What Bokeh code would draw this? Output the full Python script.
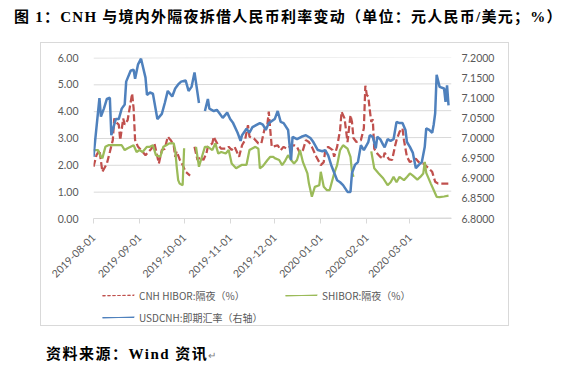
import numpy as np
import pandas as pd
from bokeh.plotting import figure
from bokeh.layouts import column
from bokeh.models import (Range1d, LinearAxis, FixedTicker, DatetimeTickFormatter,
                          NumeralTickFormatter, Legend, LegendItem, Div, InlineStyleSheet)
from bokeh.embed import file_html
from bokeh.resources import INLINE

NaN = float("nan")

title_text = "图 1：CNH 与境内外隔夜拆借人民币利率变动（单位：元人民币/美元；%）"
source_text = "资料来源：Wind 资讯"
x_start, x_end = "2019-08-01", "2020-03-29"
tick_dates = ["2019-08-01", "2019-09-01", "2019-10-01", "2019-11-01",
              "2019-12-01", "2020-01-01", "2020-02-01", "2020-03-01"]
left_ticks = [0, 1, 2, 3, 4, 5, 6]
right_ticks = [6.80, 6.85, 6.90, 6.95, 7.00, 7.05, 7.10, 7.15, 7.20]
name_hibor = "CNH HIBOR:隔夜（%）"
name_shibor = "SHIBOR:隔夜（%）"
name_usdcnh = "USDCNH:即期汇率（右轴）"

usdcnh_dates = [
    "2019-08-01", "2019-08-05", "2019-08-06", "2019-08-08", "2019-08-10", "2019-08-12", "2019-08-13",
    "2019-08-16", "2019-08-18", "2019-08-20", "2019-08-22", "2019-08-23", "2019-08-26", "2019-08-28",
    "2019-08-29", "2019-08-31", "2019-09-02", "2019-09-05", "2019-09-06", "2019-09-08", "2019-09-10",
    "2019-09-13", "2019-09-16", "2019-09-18", "2019-09-20", "2019-09-23", "2019-09-25", "2019-09-27",
    "2019-09-29", "2019-10-02", "2019-10-04", "2019-10-06", "2019-10-08", "2019-10-11", "2019-10-13",
    "2019-10-15", "2019-10-17", "2019-10-18", "2019-10-21", "2019-10-23", "2019-10-25", "2019-10-27",
    "2019-10-30", "2019-11-01", "2019-11-03", "2019-11-06", "2019-11-08", "2019-11-09", "2019-11-12",
    "2019-11-14", "2019-11-16", "2019-11-21", "2019-11-23", "2019-11-25", "2019-11-27", "2019-12-01",
    "2019-12-03", "2019-12-05", "2019-12-07", "2019-12-10", "2019-12-12", "2019-12-13", "2019-12-16",
    "2019-12-19", "2019-12-22", "2019-12-25", "2019-12-27", "2019-12-30", "2020-01-02", "2020-01-04",
    "2020-01-06", "2020-01-08", "2020-01-12", "2020-01-14", "2020-01-16", "2020-01-19", "2020-01-21",
    "2020-01-22", "2020-01-24", "2020-01-26", "2020-01-28", "2020-01-30", "2020-02-02", "2020-02-03",
    "2020-02-05", "2020-02-07", "2020-02-08", "2020-02-10", "2020-02-12", "2020-02-13", "2020-02-15",
    "2020-02-17", "2020-02-19", "2020-02-21", "2020-02-23", "2020-02-25", "2020-02-27", "2020-02-28",
    "2020-03-01", "2020-03-03", "2020-03-05", "2020-03-07", "2020-03-09", "2020-03-11", "2020-03-12",
    "2020-03-14", "2020-03-16", "2020-03-17", "2020-03-18", "2020-03-19", "2020-03-21", "2020-03-24",
    "2020-03-25", "2020-03-26", "2020-03-27"]
usdcnh = [
    6.953, 7.099, 7.053, 7.073, 7.097, 7.100, 7.007,
    7.047, 7.047, 7.073, 7.083, 7.140, 7.167, 7.170,
    7.147, 7.183, 7.197, 7.150, 7.107, 7.113, 7.110,
    7.047, 7.060, 7.087, 7.117, 7.103, 7.123, 7.133,
    7.140, 7.143, 7.117, 7.127, 7.163, 7.087, NaN,
    7.067, 7.097, 7.073, 7.067, 7.070, 7.060, 7.050,
    7.063, 7.047, 7.037, 7.013, 6.993, 7.007, 7.023,
    7.013, 7.027, 7.037, 7.033, 7.020, 7.037, 7.047,
    7.067, 7.040, 7.037, 7.020, 6.945, 7.003, 6.997,
    7.003, 7.007, 7.000, 6.990, 6.970, 6.967, 6.970,
    6.957, 6.933, 6.895, 6.890, 6.883, 6.866, 6.866,
    6.913, 6.933, 6.940, 6.982, 6.970, 6.990, 7.007,
    7.003, 6.974, 7.003, 6.997, 6.983, 6.977, 6.997,
    6.993, 6.997, 7.040, 7.037, 7.037, 7.020, 6.990,
    6.978, 6.963, 6.925, 6.933, 6.940, 6.978, 7.024,
    7.020, 7.013, 7.033, 7.061, 7.157, 7.127, 7.123,
    7.090, 7.131, 7.081]

hibor_dates = [
    "2019-08-01", "2019-08-03", "2019-08-05", "2019-08-07", "2019-08-10", "2019-08-12", "2019-08-14",
    "2019-08-15", "2019-08-16", "2019-08-18", "2019-08-19", "2019-08-21", "2019-08-22", "2019-08-24",
    "2019-08-27", "2019-08-28", "2019-08-29", "2019-08-31", "2019-09-02", "2019-09-05", "2019-09-07",
    "2019-09-09", "2019-09-11", "2019-09-12", "2019-09-14", "2019-09-16", "2019-09-18", "2019-09-20",
    "2019-09-22", "2019-09-24", "2019-09-25", "2019-09-26", "2019-09-28", "2019-09-30", "2019-10-02",
    "2019-10-05", "2019-10-07", "2019-10-08", "2019-10-10", "2019-10-12", "2019-10-14", "2019-10-16",
    "2019-10-17", "2019-10-20", "2019-10-21", "2019-10-22", "2019-10-24", "2019-10-26", "2019-10-29",
    "2019-10-31", "2019-11-02", "2019-11-04", "2019-11-07", "2019-11-09", "2019-11-11", "2019-11-13",
    "2019-11-14", "2019-11-17", "2019-11-20", "2019-11-22", "2019-11-24", "2019-11-26", "2019-11-27",
    "2019-11-28", "2019-11-29", "2019-12-01", "2019-12-03", "2019-12-05", "2019-12-07", "2019-12-09",
    "2019-12-11", "2019-12-14", "2019-12-16", "2019-12-18", "2019-12-20", "2019-12-22", "2019-12-24",
    "2019-12-26", "2019-12-29", "2020-01-01", "2020-01-03", "2020-01-04", "2020-01-06", "2020-01-09",
    "2020-01-10", "2020-01-12", "2020-01-14", "2020-01-15", "2020-01-17", "2020-01-19", "2020-01-21",
    "2020-01-22", "2020-01-23", "2020-01-25", "2020-01-28", "2020-01-30", "2020-01-31", "2020-02-01",
    "2020-02-02", "2020-02-03", "2020-02-04", "2020-02-05", "2020-02-06", "2020-02-08", "2020-02-10",
    "2020-02-12", "2020-02-13", "2020-02-16", "2020-02-18", "2020-02-20", "2020-02-21", "2020-02-23",
    "2020-02-25", "2020-02-26", "2020-02-28", "2020-03-01", "2020-03-03", "2020-03-05", "2020-03-07",
    "2020-03-10", "2020-03-12", "2020-03-14", "2020-03-16", "2020-03-18", "2020-03-20", "2020-03-23",
    "2020-03-25", "2020-03-27"]
hibor = [
    1.93, 2.36, 2.55, 1.74, 2.05, 2.48, 2.92,
    3.73, 3.60, 3.50, 2.92, 3.73, 3.50, 3.67,
    4.66, 4.10, 2.92, 2.67, 2.55, 2.36, 2.48,
    2.60, 2.80, 2.55, 2.05, 2.55, 2.60, 3.05,
    2.92, 2.73, 2.30, 2.50, 2.20, 2.00, 1.74,
    1.60, NaN, 2.67, 2.18, 2.30, 2.18, 2.43,
    2.67, 2.80, 3.05, 2.92, 2.73, 2.60, 2.60,
    2.67, 2.55, 2.67, 2.30, 2.73, 2.92, 3.48,
    3.05, 2.98, 2.80, 2.80, 3.30, 3.48, 3.98,
    3.30, 2.67, 2.70, 2.73, 2.55, 2.67, 2.60,
    2.67, 2.73, 2.67, 2.43, 2.55, 2.92, 2.85,
    2.67, 2.30, 1.99, 2.10, 2.55, 2.67, 2.55,
    2.30, 2.67, 3.30, 3.98, 3.73, 2.85, 3.85,
    3.60, 3.00, 2.85, 2.92, 3.36, 4.95, 4.60,
    4.54, 4.04, 3.60, 3.70, 2.60, 2.42, 2.30,
    2.23, 2.45, 2.20, 2.18, 2.70, 2.92, 3.23,
    3.36, 2.92, 2.30, 2.10, 2.17, 2.23, 2.10,
    2.05, 1.95, 1.85, 1.74, 1.37, 1.30, 1.30,
    1.30, 1.30]

shibor_dates = [
    "2019-08-01", "2019-08-04", "2019-08-06", "2019-08-07", "2019-08-09", "2019-08-11", "2019-08-14",
    "2019-08-18", "2019-08-20", "2019-08-22", "2019-08-24", "2019-08-28", "2019-08-30", "2019-09-01",
    "2019-09-03", "2019-09-06", "2019-09-08", "2019-09-10", "2019-09-12", "2019-09-15", "2019-09-17",
    "2019-09-19", "2019-09-21", "2019-09-24", "2019-09-25", "2019-09-26", "2019-09-27", "2019-09-28",
    "2019-09-30", "2019-10-01", "2019-10-02", "2019-10-09", "2019-10-11", "2019-10-13", "2019-10-15",
    "2019-10-17", "2019-10-20", "2019-10-22", "2019-10-24", "2019-10-26", "2019-10-29", "2019-10-31",
    "2019-11-02", "2019-11-05", "2019-11-09", "2019-11-12", "2019-11-14", "2019-11-18", "2019-11-20",
    "2019-11-21", "2019-11-23", "2019-11-26", "2019-11-28", "2019-11-30", "2019-12-01", "2019-12-04",
    "2019-12-06", "2019-12-08", "2019-12-10", "2019-12-12", "2019-12-14", "2019-12-16", "2019-12-18",
    "2019-12-20", "2019-12-23", "2019-12-24", "2019-12-26", "2019-12-28", "2019-12-31", "2020-01-01",
    "2020-01-03", "2020-01-05", "2020-01-07", "2020-01-10", "2020-01-12", "2020-01-14", "2020-01-16",
    "2020-01-19", "2020-01-21", "2020-01-22", "2020-01-23", "2020-01-28", "2020-02-04", "2020-02-06",
    "2020-02-09", "2020-02-12", "2020-02-15", "2020-02-17", "2020-02-19", "2020-02-21", "2020-02-23",
    "2020-02-26", "2020-02-28", "2020-03-01", "2020-03-03", "2020-03-06", "2020-03-08", "2020-03-10",
    "2020-03-11", "2020-03-12", "2020-03-15", "2020-03-17", "2020-03-19", "2020-03-21", "2020-03-24",
    "2020-03-27"]
shibor = [
    2.55, 2.55, 2.30, 2.25, 2.67, 2.73, 2.73,
    2.73, 2.73, 2.55, 2.62, 2.73, 2.48, 2.55,
    2.48, 2.67, 2.67, 2.73, 2.36, 2.30, 2.67,
    2.73, 2.80, 2.80, 2.55, 1.93, 1.43, 1.30,
    1.24, 2.62, NaN, 2.67, 1.93, 2.30, 2.67,
    2.67, 2.55, 2.80, 2.42, 2.48, 2.42, 2.55,
    2.05, 1.87, 2.00, 2.00, 2.55, 2.67, 2.60,
    1.87, 1.95, 2.17, 2.30, 2.30, 2.25, 2.18,
    1.99, 2.15, 2.36, 2.18, 2.05, 2.18, 2.55,
    2.10, 1.68, 1.31, 0.81, 1.18, 1.24, 1.74,
    1.18, 1.06, 1.06, 1.68, 1.99, 2.55, 2.73,
    2.60, 2.30, 1.74, 1.55, NaN, 2.50, 1.87,
    1.68, 1.50, 1.24, 1.35, 1.55, 1.35, 1.55,
    1.43, 1.55, 1.68, 1.60, 1.45, 1.55, 1.68,
    2.11, 1.70, 1.31, 1.06, 0.81, 0.80, 0.82,
    0.85]

RED = "#C0504D"
GREEN = "#9BBB59"
BLUE = "#4F81BD"
GRID = "#D9D9D9"
LABEL = "#595959"

# ---------- header (title) ----------
head = Div(text=('<div style="padding:7px 0 0 14px; white-space:nowrap; color:#000; '
                 'letter-spacing:1.25px; '
                 'font:bold 15px/20px \'Liberation Serif\', \'Noto Sans CJK SC\', serif;">'
                 + title_text + '</div>'),
           width=567, height=42, margin=0)

# ---------- main chart ----------
FRAME_W, FRAME_H = 358, 161
x0, x1 = pd.Timestamp(x_start), pd.Timestamp(x_end)
y0, y1 = left_ticks[0], left_ticks[-1]
p = figure(frame_width=FRAME_W, frame_height=FRAME_H, x_axis_type="datetime",
           output_backend="svg", toolbar_location=None, title=None,
           x_range=Range1d(x0, x1), y_range=Range1d(y0, y1),
           min_border_left=93, min_border_right=116, min_border_top=15, min_border_bottom=62)
p.extra_y_ranges = {"fx": Range1d(right_ticks[0], right_ticks[-1])}
p.outline_line_color = None
p.background_fill_color = None
p.border_fill_color = None
p.grid.visible = False

# horizontal gridlines at the left-axis ticks, drawn below the series
# (a half-pixel rise keeps each stroke's box non-empty so the SVG renders it)
half_px = (y1 - y0) / FRAME_H / 2
p.line(x=[], y=[])  # placeholder renderer
for t in left_ticks:
    p.line(x=[x0, x1], y=[t - half_px, t + half_px], line_color=GRID, line_width=1)

ya = p.yaxis[0]
ya.ticker = FixedTicker(ticks=left_ticks)
ya.formatter = NumeralTickFormatter(format="0.00")
ya.axis_line_color = None
ya.major_tick_line_color = None
ya.major_tick_in = 0
ya.major_tick_out = 0
ya.minor_tick_line_color = None
ya.major_label_standoff = 15
ya.major_label_text_color = LABEL
ya.major_label_text_font = "Lato"
ya.major_label_text_font_size = "10.5px"

ra = LinearAxis(y_range_name="fx", ticker=FixedTicker(ticks=right_ticks),
                formatter=NumeralTickFormatter(format="0.0000"))
ra.axis_line_color = None
ra.major_tick_line_color = None
ra.minor_tick_line_color = None
ra.major_tick_out = 0
ra.major_tick_in = 0
ra.major_label_standoff = 10
ra.major_label_text_color = LABEL
ra.major_label_text_font = "Lato"
ra.major_label_text_font_size = "10.5px"
p.add_layout(ra, "right")

tick_ms = [pd.Timestamp(d).value / 1e6 for d in tick_dates]
xa = p.xaxis[0]
xa.ticker = FixedTicker(ticks=tick_ms)
fmt = "%Y-%m-%d"
xa.formatter = DatetimeTickFormatter(days=fmt, months=fmt, years=fmt, hours=fmt,
                                     hourmin=fmt, minutes=fmt, minsec=fmt, seconds=fmt,
                                     milliseconds=fmt, microseconds=fmt)
xa.axis_line_color = GRID
xa.major_tick_line_color = GRID
xa.major_tick_in = 0
xa.major_tick_out = 5
xa.minor_tick_line_color = None
xa.major_label_orientation = np.pi / 4
xa.major_label_standoff = 12
xa.major_label_text_color = LABEL
xa.major_label_text_font = "Lato"
xa.major_label_text_font_size = "10.5px"

hx = pd.to_datetime(hibor_dates)
sx = pd.to_datetime(shibor_dates)
ux = pd.to_datetime(usdcnh_dates)
p.line(hx, np.array(hibor, dtype=float), line_color=RED, line_width=2.25, line_dash="7 3")
p.line(sx, np.array(shibor, dtype=float), line_color=GREEN, line_width=2.25)
p.line(ux, np.array(usdcnh, dtype=float), line_color=BLUE, line_width=2.5, y_range_name="fx")

# ---------- footer: legend (frame lines up with the chart frame; 1 unit = 1 px) ----------
FOOT_H = 55
GLYPH_W, ITEM_H = 32, 20
foot = figure(width=567, height=FOOT_H, output_backend="svg", toolbar_location=None,
              x_axis_location=None, y_axis_location=None, title=None,
              min_border_left=93, min_border_right=116, min_border_top=0, min_border_bottom=0,
              x_range=Range1d(0, FRAME_W), y_range=Range1d(0, FOOT_H))
foot.grid.visible = False
foot.outline_line_color = None
foot.background_fill_color = None
foot.border_fill_color = None
foot.line(x=[], y=[])  # placeholder renderer


def add_legend(label, color, dash, loc):
    lx, ly = loc
    cy = ly + ITEM_H / 2
    # sample stroke of the legend entry
    r = foot.line(x=[lx, lx + GLYPH_W], y=[cy - 0.5, cy + 0.5], line_color=color,
                  line_width=1, line_dash=dash)
    foot.add_layout(Legend(items=[LegendItem(label=label, renderers=[r])], location=loc,
                           orientation="horizontal", padding=0, margin=0, spacing=0,
                           border_line_color=None, background_fill_alpha=0,
                           glyph_width=GLYPH_W, glyph_height=ITEM_H, label_height=ITEM_H,
                           label_standoff=5,
                           label_text_font="Noto Sans CJK SC", label_text_font_size="10px",
                           label_text_color=LABEL), "center")


add_legend(name_hibor, RED, "3 2", (9, 34))
add_legend(name_shibor, GREEN, "solid", (192, 34))
add_legend(name_usdcnh, BLUE, "solid", (9, 12))

# ---------- source ----------
src = Div(text=('<div style="padding:6px 0 0 46px; white-space:nowrap; color:#000; '
                'letter-spacing:1.5px; '
                'font:bold 15px/18px \'Liberation Serif\', \'Noto Sans CJK SC\', serif;">'
                + source_text +
                '<span style="color:#808080; letter-spacing:0; '
                'font:normal 10px \'Noto Sans CJK SC\';">↵</span></div>'),
          width=567, height=34, margin=0)

layout = column(head, p, foot, src, spacing=0)
layout.stylesheets = [InlineStyleSheet(css=(
    ":host::after { content: ''; position: absolute; left: 40px; top: 42px; "
    "width: 469px; height: 284px; border: 1px solid #D9D9D9; "
    "box-sizing: border-box; pointer-events: none; }"))]

open("out.html", "w").write(file_html(layout, INLINE))
